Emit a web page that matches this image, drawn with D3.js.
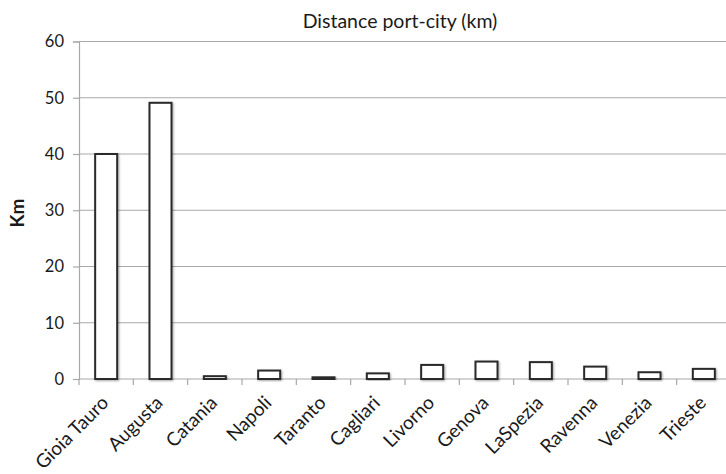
<!DOCTYPE html>
<html>
<head>
<meta charset="utf-8">
<script src="https://cdn.jsdelivr.net/npm/d3@7"></script>
<style>
  html, body { margin: 0; padding: 0; background: #fff; }
  svg { display: block; }
  text { font-family: Lato, "Open Sans", sans-serif; fill: #1a1a1a; }
</style>
</head>
<body>
<script>
// Distance between each port and its city, in km
const ports = ["Gioia Tauro", "Augusta", "Catania", "Napoli", "Taranto", "Cagliari",
               "Livorno", "Genova", "LaSpezia", "Ravenna", "Venezia", "Trieste"];
const distanceKm = [40, 49.1, 0.5, 1.5, 0.3, 1.0, 2.5, 3.1, 3.0, 2.2, 1.2, 1.8];
const yTicks = [0, 10, 20, 30, 40, 50, 60];
const chartTitle = "Distance port-city (km)";
const yTitle = "Km";

const W = 726, H = 474;
const margin = { left: 79, top: 41.5, bottom: 95 };
const plotRight = 731;

const svg = d3.select("body").append("svg")
  .attr("width", W).attr("height", H);

const defs = svg.append("defs");
const shadow = defs.append("filter").attr("id", "barShadow")
  .attr("x", "-30%").attr("y", "-30%").attr("width", "160%").attr("height", "160%");
shadow.append("feDropShadow")
  .attr("dx", 1).attr("dy", 1).attr("stdDeviation", 1.2)
  .attr("flood-color", "#000").attr("flood-opacity", 0.35);

const x = d3.scaleBand()
  .domain(ports)
  .range([margin.left, plotRight])
  .paddingInner(0.595)
  .paddingOuter(0.2975);

const y = d3.scaleLinear()
  .domain([0, 60])
  .range([H - margin.bottom, margin.top]);

// horizontal gridlines
svg.append("g")
  .selectAll("line")
  .data(yTicks)
  .join("line")
  .attr("x1", margin.left).attr("x2", plotRight)
  .attr("y1", d => y(d)).attr("y2", d => y(d))
  .attr("stroke", "#a8a8a8").attr("stroke-width", 1.2);

// y axis
const yAxis = svg.append("g")
  .attr("transform", `translate(${margin.left},0)`)
  .call(d3.axisLeft(y).tickValues(yTicks).tickSize(6).tickPadding(9));
yAxis.select(".domain").attr("stroke", "#a8a8a8").attr("stroke-width", 1.2);
yAxis.selectAll(".tick line").attr("stroke", "#a8a8a8").attr("stroke-width", 1.2);
yAxis.selectAll(".tick text")
  .attr("font-family", "Lato, sans-serif")
  .attr("font-size", 16.5).attr("fill", "#1a1a1a");

// x axis: ticks at category boundaries
const step = x.step();
const boundaries = d3.range(ports.length + 1).map(i => margin.left + i * step);
svg.append("g")
  .selectAll("line")
  .data(boundaries)
  .join("line")
  .attr("x1", d => d).attr("x2", d => d)
  .attr("y1", y(0)).attr("y2", y(0) + 6)
  .attr("stroke", "#a8a8a8").attr("stroke-width", 1.2);

// bars
svg.append("g")
  .selectAll("rect")
  .data(ports)
  .join("rect")
  .attr("x", d => x(d))
  .attr("width", x.bandwidth())
  .attr("y", (d, i) => y(distanceKm[i]))
  .attr("height", (d, i) => y(0) - y(distanceKm[i]))
  .attr("fill", "#fff")
  .attr("stroke", "#2b2b2b")
  .attr("stroke-width", 2)
  .attr("filter", "url(#barShadow)");

// category labels, rotated
svg.append("g")
  .selectAll("text")
  .data(ports)
  .join("text")
  .attr("transform", d => `translate(${x(d) + x.bandwidth() / 2 + 3.5},${y(0) + 25}) rotate(-45)`)
  .attr("text-anchor", "end")
  .attr("font-size", 19)
  .text(d => d);

// chart title
svg.append("text")
  .attr("x", 400).attr("y", 28)
  .attr("text-anchor", "middle")
  .attr("font-size", 19.5)
  .text(chartTitle);

// y axis title
svg.append("text")
  .attr("transform", `translate(24,213) rotate(-90)`)
  .attr("text-anchor", "middle")
  .attr("font-size", 19)
  .attr("font-weight", "bold")
  .text(yTitle);
</script>
</body>
</html>
